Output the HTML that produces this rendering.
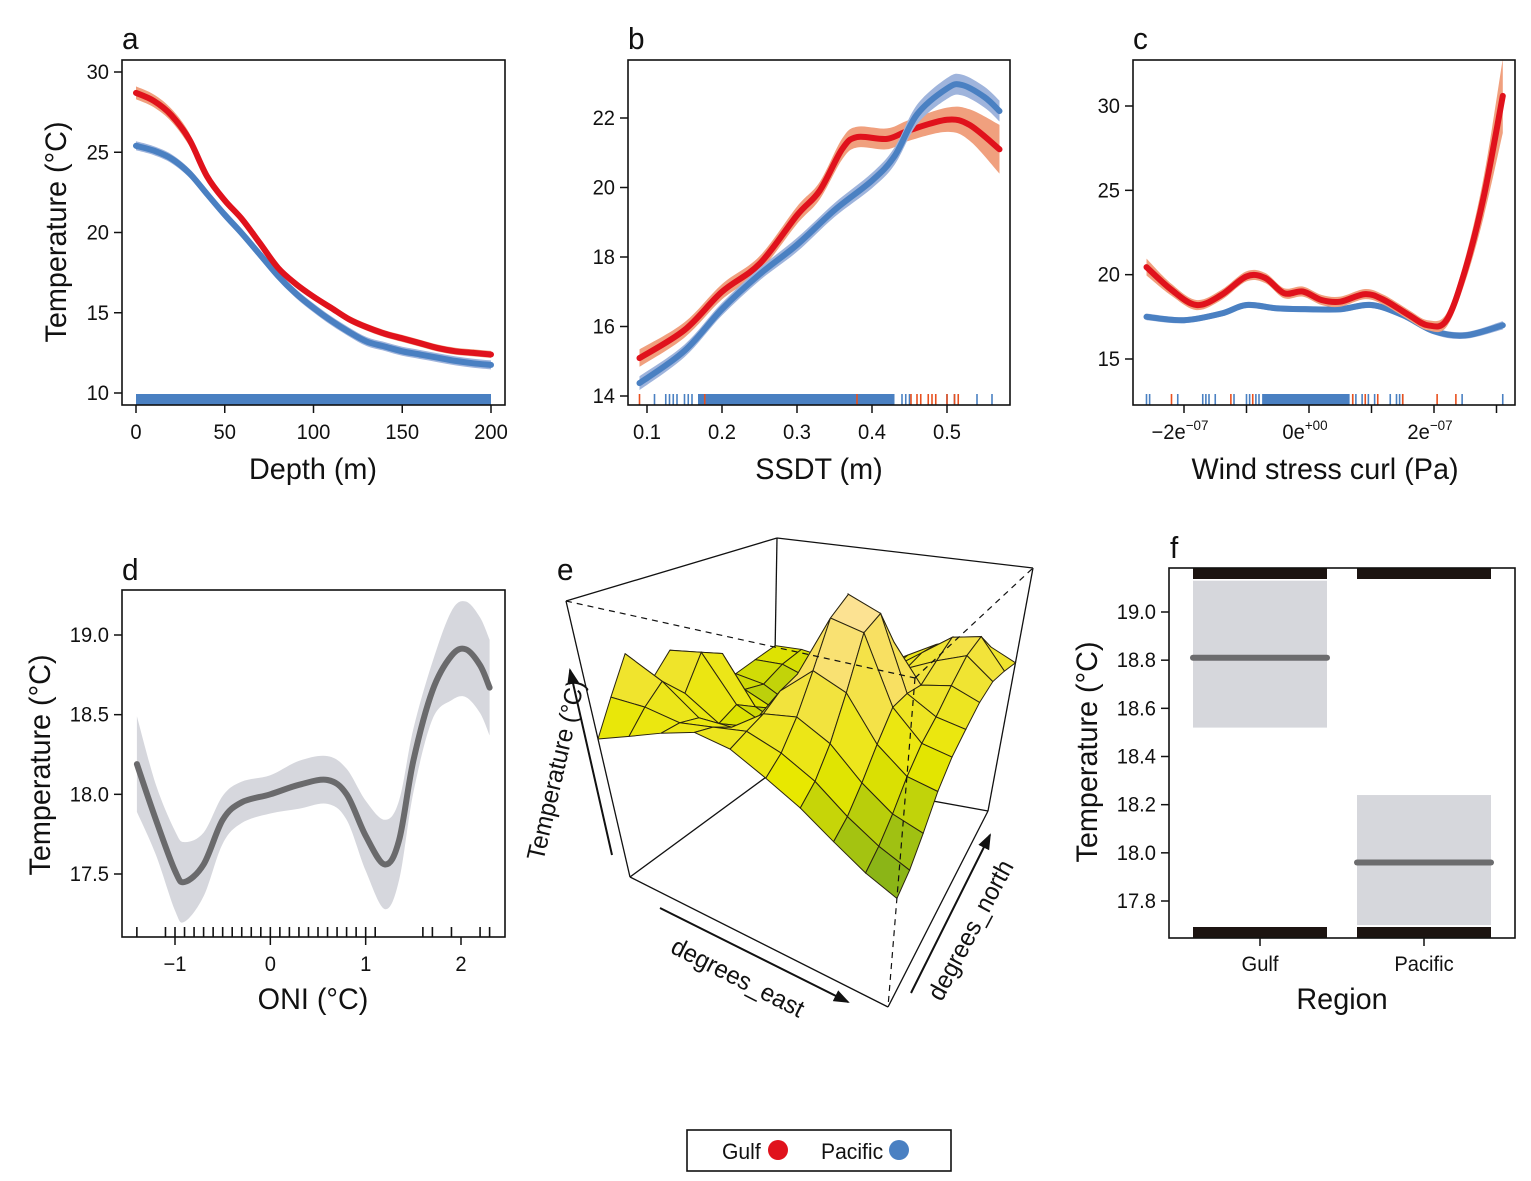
<!DOCTYPE html>
<html><head><meta charset="utf-8"><style>
body{margin:0;background:#fff}
svg{display:block;font-family:"Liberation Sans Narrow","Liberation Sans",sans-serif}
</style></head><body>
<svg id="fig" width="1531" height="1181" viewBox="0 0 1531 1181"></svg>
<script>
// ---------- DATA ----------
const aDepth=[0,10,20,30,40,50,60,70,80,90,100,110,120,130,140,150,160,170,180,190,200];
const aGulf=[28.7,28.2,27.3,25.8,23.5,22,20.8,19.3,17.8,16.8,16.0,15.3,14.6,14.1,13.7,13.4,13.1,12.8,12.6,12.5,12.4];
const aPac=[25.4,25.1,24.6,23.7,22.4,21.1,19.9,18.6,17.3,16.2,15.3,14.5,13.8,13.2,12.9,12.6,12.4,12.2,12.0,11.85,11.75];
const aTicksX=[0,50,100,150,200];
const aTicksY=[10,15,20,25,30];

const bGulfX=[0.09,0.15,0.2,0.25,0.3,0.33,0.36,0.38,0.42,0.45,0.5,0.53,0.57];
const bGulf=[15.09,15.9,17.0,17.8,19.2,19.9,21.1,21.45,21.4,21.65,21.95,21.8,21.1];
const bGulfSE=[0.25,0.22,0.22,0.22,0.25,0.25,0.3,0.3,0.3,0.3,0.35,0.45,0.7];
const bPacX=[0.09,0.15,0.2,0.25,0.3,0.35,0.4,0.43,0.46,0.5,0.52,0.55,0.57];
const bPac=[14.37,15.3,16.5,17.5,18.35,19.35,20.2,20.9,22.1,22.85,22.95,22.6,22.2];
const bPacSE=[0.2,0.18,0.18,0.18,0.2,0.2,0.22,0.25,0.28,0.3,0.3,0.3,0.3];
const bTicksX=[0.1,0.2,0.3,0.4,0.5];
const bTicksY=[14,16,18,20,22];
const bRugPac=[0.11,0.125,0.13,0.135,0.14,0.15,0.155,0.16,0.17,0.44,0.445,0.45,0.5,0.51,0.54,0.56];
const bRugGulf=[0.09,0.177,0.38,0.452,0.46,0.465,0.475,0.48,0.485,0.5,0.51,0.515];

const cGulfX=[-2.6,-2.2,-1.8,-1.4,-1.0,-0.7,-0.4,-0.1,0.2,0.5,0.9,1.2,1.6,1.9,2.2,2.5,2.8,3.1];
const cGulf=[20.45,19.1,18.2,18.8,19.9,19.8,18.9,19.0,18.5,18.4,18.85,18.5,17.6,17.0,17.3,20.3,24.7,30.6];
const cGulfSE=[0.5,0.35,0.3,0.3,0.3,0.3,0.3,0.3,0.3,0.3,0.3,0.3,0.3,0.3,0.4,0.7,1.2,2.2];
const cPacX=[-2.6,-2.0,-1.4,-1.0,-0.5,0,0.5,1.0,1.5,2.0,2.5,3.1];
const cPac=[17.5,17.3,17.7,18.2,18.0,17.95,17.95,18.2,17.6,16.65,16.4,17.0];
const cPacSE=[0.2,0.18,0.18,0.18,0.18,0.18,0.18,0.18,0.18,0.2,0.2,0.25];
const cTicksX=[-2,-1,0,1,2,3];
const cTickLabels=[[-2,"\u22122e","\u221207"],[0,"0e","+00"],[2,"2e","\u221207"]];
const cTicksY=[15,20,25,30];
const cRugPac=[-2.6,-2.55,-2.1,-1.7,-1.65,-1.6,-1.5,-1.2,-1.0,-0.95,-0.85,-0.8,0.7,0.75,0.85,0.95,1.05,1.3,1.4,1.45,1.5,2.45,3.1];
const cRugGulf=[-2.2,-1.25,-0.9,0.7,0.9,1.1,1.5,2.05,2.35];

const dX=[-1.4,-1.2,-1.0,-0.9,-0.7,-0.5,-0.3,0,0.3,0.6,0.8,1.0,1.2,1.35,1.5,1.7,1.9,2.05,2.2,2.3];
const dY=[18.19,17.84,17.52,17.45,17.56,17.84,17.95,18.0,18.06,18.09,18.0,17.74,17.56,17.71,18.21,18.65,18.87,18.91,18.81,18.67];
const dSE=[0.3,0.22,0.25,0.25,0.2,0.15,0.13,0.12,0.15,0.15,0.16,0.22,0.28,0.25,0.2,0.18,0.28,0.3,0.3,0.3];
const dTicksX=[-1,0,1,2];
const dTicksY=[17.5,18.0,18.5,19.0];
const dRug=[-1.4,-1.1,-1.0,-0.9,-0.8,-0.7,-0.6,-0.5,-0.4,-0.3,-0.2,-0.1,0,0.1,0.2,0.3,0.4,0.5,0.6,0.7,0.8,0.9,1.0,1.1,1.6,1.7,1.9,2.2,2.3];

const fCats=["Gulf","Pacific"];
const fFit=[18.81,17.96];
const fLow=[18.52,17.70];
const fHigh=[19.13,18.24];
const fTicksY=[17.8,18.0,18.2,18.4,18.6,18.8,19.0];

const eZ=[
[.50,.55,.60,.64,.62,.56,.50,.43,.37,.33],
[.62,.62,.60,.62,.64,.60,.54,.46,.40,.36],
[.75,.68,.58,.58,.66,.68,.62,.52,.45,.42],
[.62,.60,.52,.54,.70,.80,.75,.60,.52,.50],
[.70,.72,.55,.50,.72,.95,.92,.68,.58,.56],
[.65,.68,.50,.45,.70,1.0,.95,.68,.62,.60],
[.52,.50,.45,.42,.60,.85,.80,.66,.68,.64],
[.50,.48,.42,.40,.52,.65,.65,.70,.74,.66],
[.52,.52,.48,.45,.50,.58,.66,.74,.76,.64],
[.54,.54,.52,.50,.52,.58,.64,.68,.66,.61]];

// ---------- HELPERS ----------
const NS="http://www.w3.org/2000/svg";
const svg=document.getElementById('fig');
const SX=0.96;
function mk(tag,parent){const e=document.createElementNS(NS,tag);(parent||svg).appendChild(e);return e;}
function lin(d0,d1,r0,r1){return v=>r0+(v-d0)*(r1-r0)/(d1-d0);}
function smooth(p){let d='M'+p[0][0].toFixed(1)+','+p[0][1].toFixed(1);
 for(let i=0;i<p.length-1;i++){const p0=p[i-1]||p[i],p1=p[i],p2=p[i+1],p3=p[i+2]||p2;
  d+='C'+(p1[0]+(p2[0]-p0[0])/6).toFixed(1)+','+(p1[1]+(p2[1]-p0[1])/6).toFixed(1)+' '+(p2[0]-(p3[0]-p1[0])/6).toFixed(1)+','+(p2[1]-(p3[1]-p1[1])/6).toFixed(1)+' '+p2[0].toFixed(1)+','+p2[1].toFixed(1);}
 return d;}
function txt(x,y,s,size,anchor,g,name,rot){const t=mk('text',g);t.setAttribute('x',0);t.setAttribute('y',0);t.setAttribute('font-size',size);t.setAttribute('text-anchor',anchor||'middle');t.setAttribute('fill','#111');t.textContent=s;
 t.setAttribute('transform','translate('+x+' '+y+')'+(rot?' rotate('+rot+')':'')+' scale('+SX+' 1)');
 
 
 return t;}
function line(x1,y1,x2,y2,w,g,col){const l=mk('line',g);l.setAttribute('x1',x1);l.setAttribute('y1',y1);l.setAttribute('x2',x2);l.setAttribute('y2',y2);l.setAttribute('stroke',col||'#111');l.setAttribute('stroke-width',w||1.5);return l;}
function frame(x0,y0,x1,y1,g){const r=mk('rect',g);r.setAttribute('x',x0);r.setAttribute('y',y0);r.setAttribute('width',x1-x0);r.setAttribute('height',y1-y0);r.setAttribute('fill','none');r.setAttribute('stroke','#111');r.setAttribute('stroke-width',1.6);
 
 }
function group(name){const g=mk('g');
 
 
 return g;}
function series(xs,ys,X,Y,SE,lineCol,bandCol,w,g,nm){
 if(SE){const up=X.map((v,i)=>[xs(v),ys(Y[i]+SE[i])]);const lo=X.map((v,i)=>[xs(v),ys(Y[i]-SE[i])]).reverse();
  const b=mk('path',g);b.setAttribute('d',smooth(up)+'L'+smooth(lo).slice(1)+'Z');b.setAttribute('fill',bandCol);
  
  }
 const p=mk('path',g);p.setAttribute('d',smooth(X.map((v,i)=>[xs(v),ys(Y[i])])));p.setAttribute('fill','none');p.setAttribute('stroke',lineCol);p.setAttribute('stroke-width',w);p.setAttribute('stroke-linecap','round');
 
 }
function yaxis(ticks,ys,x,g,fmt){ticks.forEach(v=>{line(x,ys(v),x-8,ys(v),1.5,g);txt(x-13,ys(v)+7,fmt?fmt(v):String(v),21,'end',g,'y-tick-label');});}
function xaxis(ticks,xs,y,g,labels){ticks.forEach(v=>{line(xs(v),y,xs(v),y+8,1.5,g);if(labels!==false)txt(xs(v),y+34,String(v).replace('-','\u2212'),21,'middle',g,'x-tick-label');});}
function rug(vals,xs,y0,y1,col,g){vals.forEach(v=>{const l=line(xs(v),y0,xs(v),y1,1.6,g,col);
 
 });}
function vtitle(x,y,s,g){txt(x,y,s,30,'middle',g,'y-axis-title',-90);}
function denseRug(x0,x1,g){const r=mk('rect',g);r.setAttribute('x',x0);r.setAttribute('y',394);r.setAttribute('width',x1-x0);r.setAttribute('height',11);r.setAttribute('fill','#4a80c2');
 
 }
const RED='#e0121c',BLUE='#4a80c2',RB='#f0a07e',BB='#9fb4dc';

// ---------- PANEL A ----------
{const g=group('panel-a');const xs=lin(0,200,136,491),ys=lin(10,30,393,72);
 txt(122,49,'a',31,'start',g,'panel-label');
 series(xs,ys,aDepth,aPac,aDepth.map(()=>0.28),BLUE,BB,6,g,'pacific');
 series(xs,ys,aDepth,aGulf,aDepth.map((v,i)=>i<4?0.4:0.22),RED,RB,6,g,'gulf');
 denseRug(xs(0),xs(200),g);
 frame(122,60,505,405,g);yaxis(aTicksY,ys,122,g);xaxis(aTicksX,xs,405,g);
 txt(313,479,'Depth (m)',30,'middle',g,'x-axis-title');vtitle(66,232,'Temperature (°C)',g);}

// ---------- PANEL B ----------
{const g=group('panel-b');const xs=lin(0.1,0.5,647,947),ys=lin(14,22,396,118);
 txt(628,49,'b',31,'start',g,'panel-label');
 series(xs,ys,bGulfX,bGulf,bGulfSE,RED,RB,6,g,'gulf');
 series(xs,ys,bPacX,bPac,bPacSE,BLUE,BB,6,g,'pacific');
 denseRug(xs(0.168),xs(0.43),g);
 rug(bRugPac,xs,394,405,BLUE,g);rug(bRugGulf,xs,394,405,'#e8501e',g);
 frame(628,60,1010,405,g);yaxis(bTicksY,ys,628,g);xaxis(bTicksX,xs,405,g);
 txt(819,479,'SSDT (m)',30,'middle',g,'x-axis-title');}

// ---------- PANEL C ----------
{const g=group('panel-c');const xs=lin(-2,2,1184,1434),ys=lin(15,30,359,106);
 txt(1133,49,'c',31,'start',g,'panel-label');
 series(xs,ys,cPacX,cPac,cPacSE,BLUE,BB,6,g,'pacific');
 series(xs,ys,cGulfX,cGulf,cGulfSE,RED,RB,6,g,'gulf');
 denseRug(xs(-0.75),xs(0.65),g);
 rug(cRugPac,xs,394,405,BLUE,g);rug(cRugGulf,xs,394,405,'#e8501e',g);
 frame(1133,60,1515,405,g);yaxis(cTicksY,ys,1133,g);xaxis(cTicksX,xs,405,g,false);
 cTickLabels.forEach(t=>{const e=txt(xs(t[0])-4,439,t[1],21,'middle',g,'x-tick-label');const s=mk('tspan',e);s.setAttribute('font-size',14);s.setAttribute('dy',-9);s.textContent=t[2];});
 txt(1325,479,'Wind stress curl (Pa)',30,'middle',g,'x-axis-title');}

// ---------- PANEL D ----------
{const g=group('panel-d');const xs=lin(-1,2,175,461),ys=lin(17.5,19,874,635);
 txt(122,580,'d',31,'start',g,'panel-label');
 series(xs,ys,dX,dY,dSE,'#6a6a6c','#d6d7dd',6,g,'oni-effect');
 rug(dRug,xs,927,937,'#111',g);
 frame(122,590,505,937,g);yaxis(dTicksY,ys,122,g,v=>v.toFixed(1));xaxis(dTicksX,xs,937,g);
 txt(313,1009,'ONI (°C)',30,'middle',g,'x-axis-title');vtitle(50,765,'Temperature (°C)',g);}

// ---------- PANEL E (3D surface) ----------
{const g=group('panel-e');
 txt(557,580,'e',31,'start',g,'panel-label');
 const B=[[630,877],[888,1007],[988,811],[773,772]],T=[[566,601],[915,678],[1033,568],[777,538]];
 function quad(Q,e,n){const a0=Q[0][0]+(Q[1][0]-Q[0][0])*e,a1=Q[0][1]+(Q[1][1]-Q[0][1])*e,b0=Q[3][0]+(Q[2][0]-Q[3][0])*e,b1=Q[3][1]+(Q[2][1]-Q[3][1])*e;return [a0+(b0-a0)*n,a1+(b1-a1)*n];}
 function P(e,n,z){const b=quad(B,e,n),t=quad(T,e,n);return [b[0]+(t[0]-b[0])*z,b[1]+(t[1]-b[1])*z];}
 const solid=[[T[0],T[3]],[T[3],T[2]],[T[2],B[2]],[B[0],B[1]],[B[1],B[2]],[T[0],B[0]],[T[3],B[3]],[B[0],B[3]],[B[3],B[2]]];
 solid.forEach(s=>{const l=line(s[0][0],s[0][1],s[1][0],s[1][1],1.3,g);
  
  });
 const N=eZ.length,M=eZ[0].length,cells=[];
 for(let i=0;i<N-1;i++)for(let j=0;j<M-1;j++)cells.push([i,j]);
 cells.sort((a,b)=>(a[1]-a[0])-(b[1]-b[0]));
 function col(z){const stops=[[0.3,[106,163,31]],[0.55,[232,232,0]],[0.8,[248,224,96]],[1.0,[253,227,160]]];
  if(z<=stops[0][0])return 'rgb('+stops[0][1]+')';
  for(let k=1;k<stops.length;k++)if(z<=stops[k][0]){const t=(z-stops[k-1][0])/(stops[k][0]-stops[k-1][0]);return 'rgb('+stops[k][1].map((c,m)=>Math.round(stops[k-1][1][m]+(c-stops[k-1][1][m])*t))+')';}
  return 'rgb('+stops[3][1]+')';}
 cells.forEach(([i,j])=>{const e0=j/(M-1),e1=(j+1)/(M-1),n0=i/(N-1),n1=(i+1)/(N-1);
  const pts=[P(e0,n0,eZ[i][j]),P(e1,n0,eZ[i][j+1]),P(e1,n1,eZ[i+1][j+1]),P(e0,n1,eZ[i+1][j])];
  const z=(eZ[i][j]+eZ[i][j+1]+eZ[i+1][j+1]+eZ[i+1][j])/4;
  const p=mk('polygon',g);p.setAttribute('points',pts.map(q=>q[0].toFixed(1)+','+q[1].toFixed(1)).join(' '));p.setAttribute('fill',col(z));p.setAttribute('stroke','#2a2410');p.setAttribute('stroke-width',1);
  
  });
 [[T[0],T[1]],[T[1],T[2]],[T[1],B[1]]].forEach(s=>{const l=line(s[0][0],s[0][1],s[1][0],s[1][1],1.2,g);l.setAttribute('stroke-dasharray','6,5');
  
  });
 const defs=mk('defs',g);const mkr=mk('marker',defs);mkr.setAttribute('id','arr');mkr.setAttribute('markerWidth',8);mkr.setAttribute('markerHeight',8);mkr.setAttribute('refX',7);mkr.setAttribute('refY',4);mkr.setAttribute('orient','auto');
 const mp=mk('path',mkr);mp.setAttribute('d','M0,1 L8,4 L0,7 Z');mp.setAttribute('fill','#111');
 [[612,855,570,670],[660,908,848,1002],[911,993,990,835]].forEach(a=>{const l=line(a[0],a[1],a[2],a[3],2,g);l.setAttribute('marker-end','url(#arr)');
  
  });
 txt(564,772,'Temperature (°C)',25,'middle',g,'z-axis-title',-77);
 txt(734,985,'degrees_east',25,'middle',g,'x-axis-title',27);
 txt(978,934,'degrees_north',25,'middle',g,'y-axis-title',-62);}

// ---------- PANEL F ----------
{const g=group('panel-f');const ys=lin(17.8,19,901,612);const cx=[1260,1424];
 txt(1170,558,'f',31,'start',g,'panel-label');
 fCats.forEach((c,i)=>{const r=mk('rect',g);r.setAttribute('x',cx[i]-67);r.setAttribute('y',ys(fHigh[i]));r.setAttribute('width',134);r.setAttribute('height',ys(fLow[i])-ys(fHigh[i]));r.setAttribute('fill','#d6d7dc');
  
  
  const l=line(cx[i]-67,ys(fFit[i]),cx[i]+67,ys(fFit[i]),6,g,'#6c6c6e');l.setAttribute('stroke-linecap','round');
  
  
  [568,927].forEach(y=>{const b=mk('rect',g);b.setAttribute('x',cx[i]-67);b.setAttribute('y',y);b.setAttribute('width',134);b.setAttribute('height',11);b.setAttribute('fill','#1c1411');
   
   });
  line(cx[i],938,cx[i],946,1.5,g);txt(cx[i],971,c,21,'middle',g,'x-tick-label');});
 frame(1169,568,1515,938,g);yaxis(fTicksY,ys,1169,g,v=>v.toFixed(1));
 txt(1342,1009,'Region',30,'middle',g,'x-axis-title');vtitle(1097,752,'Temperature (°C)',g);}

// ---------- LEGEND ----------
{const g=group('legend');const r=mk('rect',g);r.setAttribute('x',687);r.setAttribute('y',1130);r.setAttribute('width',264);r.setAttribute('height',41);r.setAttribute('fill','#fff');r.setAttribute('stroke','#111');r.setAttribute('stroke-width',1.6);
 txt(722,1159,'Gulf',22,'start',g,'legend-label-gulf');
 const c1=mk('circle',g);c1.setAttribute('cx',778);c1.setAttribute('cy',1150);c1.setAttribute('r',10);c1.setAttribute('fill',RED);
 
 
 txt(821,1159,'Pacific',22,'start',g,'legend-label-pacific');
 const c2=mk('circle',g);c2.setAttribute('cx',899);c2.setAttribute('cy',1150);c2.setAttribute('r',10);c2.setAttribute('fill',BLUE);
 
 }
</script>
</body></html>
